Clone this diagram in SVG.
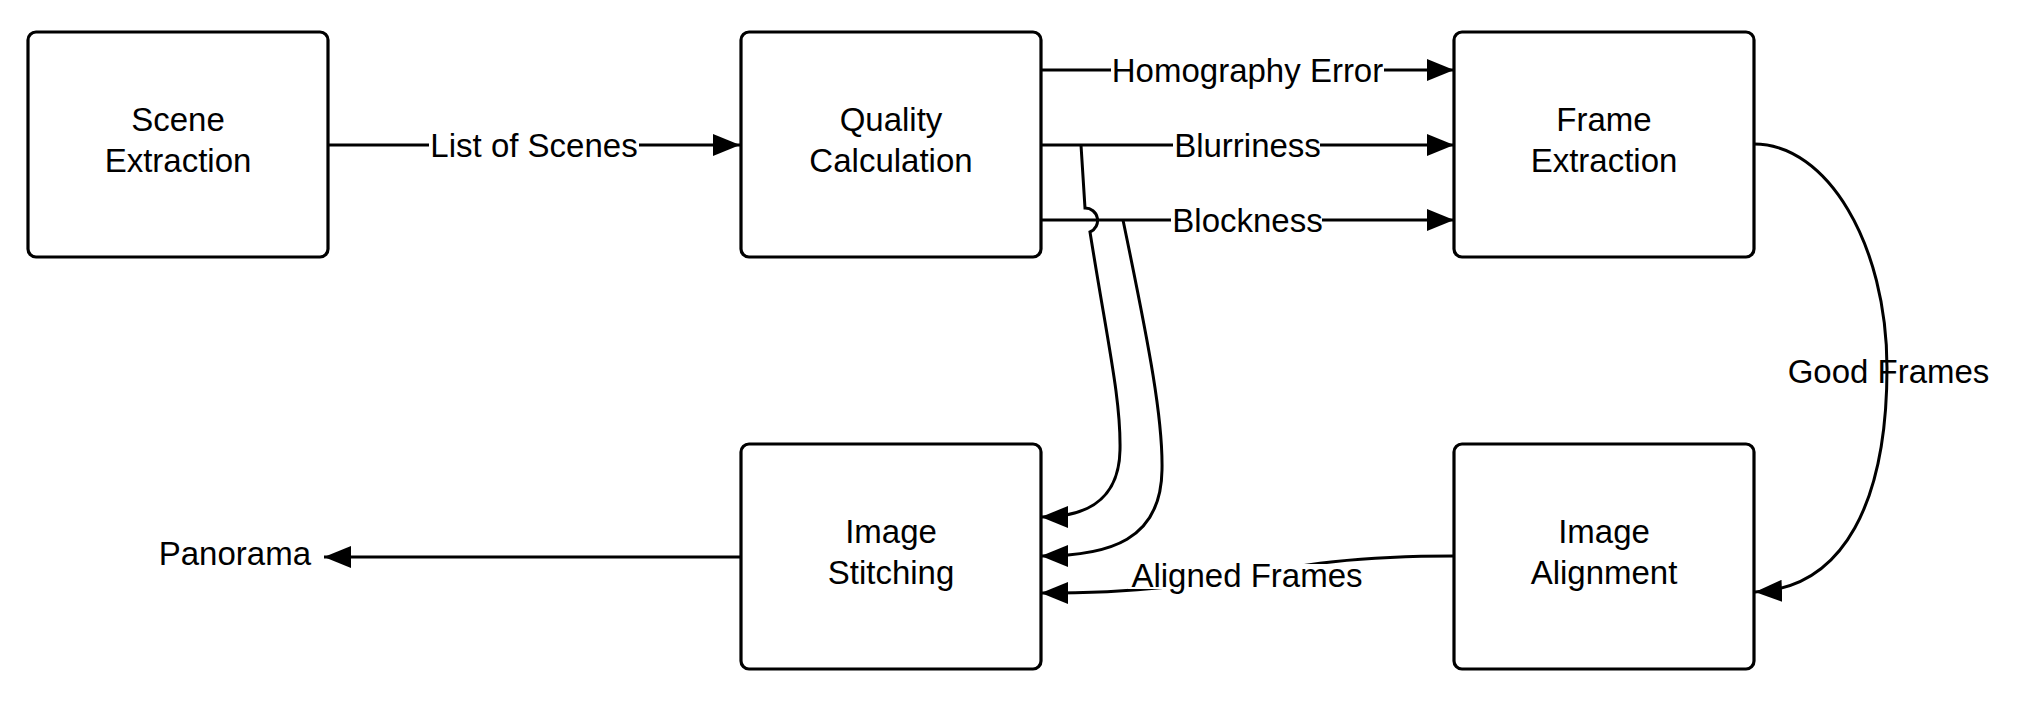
<svg xmlns="http://www.w3.org/2000/svg" width="2017" height="701" viewBox="0 0 2017 701">
<style>
.box{fill:#fff;stroke:#000;stroke-width:3.2}
.t{font-family:"Liberation Sans",Arial,sans-serif;font-size:33px;fill:#000;text-anchor:middle}
.c{fill:none;stroke:#000;stroke-width:3}
.bg{fill:#fff}
</style>
<defs>
<marker id="ah" markerUnits="userSpaceOnUse" markerWidth="28" markerHeight="22" refX="27" refY="11" orient="auto" viewBox="0 0 28 22">
<path d="M0,0 L27,11 L0,22 z" fill="#000"/>
</marker>
</defs>
<rect width="2017" height="701" fill="#fff"/>
<g id="connectors">
<path class="c" d="M328,145 H740" marker-end="url(#ah)"/>
<path class="c" d="M1041,70 H1454" marker-end="url(#ah)"/>
<path class="c" d="M1041,145 H1454" marker-end="url(#ah)"/>
<path class="c" d="M1041,220 H1454" marker-end="url(#ah)"/>
<path class="c" d="M1081,145 L1085,208 A12.5,12.5 0 0 1 1090,232 C1108,345 1121,400 1120,450 C1119,505 1080,517 1041,517" marker-end="url(#ah)"/>
<path class="c" d="M1123,220 C1150,350 1163,420 1162,470 C1161,540 1110,556 1041,556" marker-end="url(#ah)"/>
<path class="c" d="M1754,144 C1827,144 1887,244 1887,368 C1887,500 1845,588 1755,592" marker-end="url(#ah)"/>
<path class="c" d="M1454,556 C1250,556 1250,593 1041,593" marker-end="url(#ah)"/>
<path class="c" d="M741,557 H324" marker-end="url(#ah)"/>
<rect class="bg" x="429" y="128" width="210" height="34"/>
<text class="t" x="534" y="157">List of Scenes</text>
<rect class="bg" x="1111" y="53" width="273" height="34"/>
<text class="t" x="1247.5" y="82">Homography Error</text>
<rect class="bg" x="1173" y="128" width="147" height="34"/>
<text class="t" x="1247.5" y="157">Blurriness</text>
<rect class="bg" x="1171" y="203" width="151" height="34"/>
<text class="t" x="1247.5" y="232">Blockness</text>
<text class="t" x="1888.5" y="383">Good Frames</text>
<rect class="bg" x="1128" y="564" width="238" height="25"/>
<text class="t" x="1247" y="587">Aligned Frames</text>
<text class="t" x="311" y="565" style="text-anchor:end">Panorama</text>
</g>
<g id="scene-extraction">
<rect class="box" x="28" y="32" width="300" height="225" rx="8"/>
<text class="t" x="178" y="130.5">Scene</text>
<text class="t" x="178" y="171.5">Extraction</text>
</g>
<g id="quality-calculation">
<rect class="box" x="741" y="32" width="300" height="225" rx="8"/>
<text class="t" x="891" y="130.5">Quality</text>
<text class="t" x="891" y="171.5">Calculation</text>
</g>
<g id="frame-extraction">
<rect class="box" x="1454" y="32" width="300" height="225" rx="8"/>
<text class="t" x="1604" y="130.5">Frame</text>
<text class="t" x="1604" y="171.5">Extraction</text>
</g>
<g id="image-stitching">
<rect class="box" x="741" y="444" width="300" height="225" rx="8"/>
<text class="t" x="891" y="542.5">Image</text>
<text class="t" x="891" y="583.5">Stitching</text>
</g>
<g id="image-alignment">
<rect class="box" x="1454" y="444" width="300" height="225" rx="8"/>
<text class="t" x="1604" y="542.5">Image</text>
<text class="t" x="1604" y="583.5">Alignment</text>
</g>
</svg>
